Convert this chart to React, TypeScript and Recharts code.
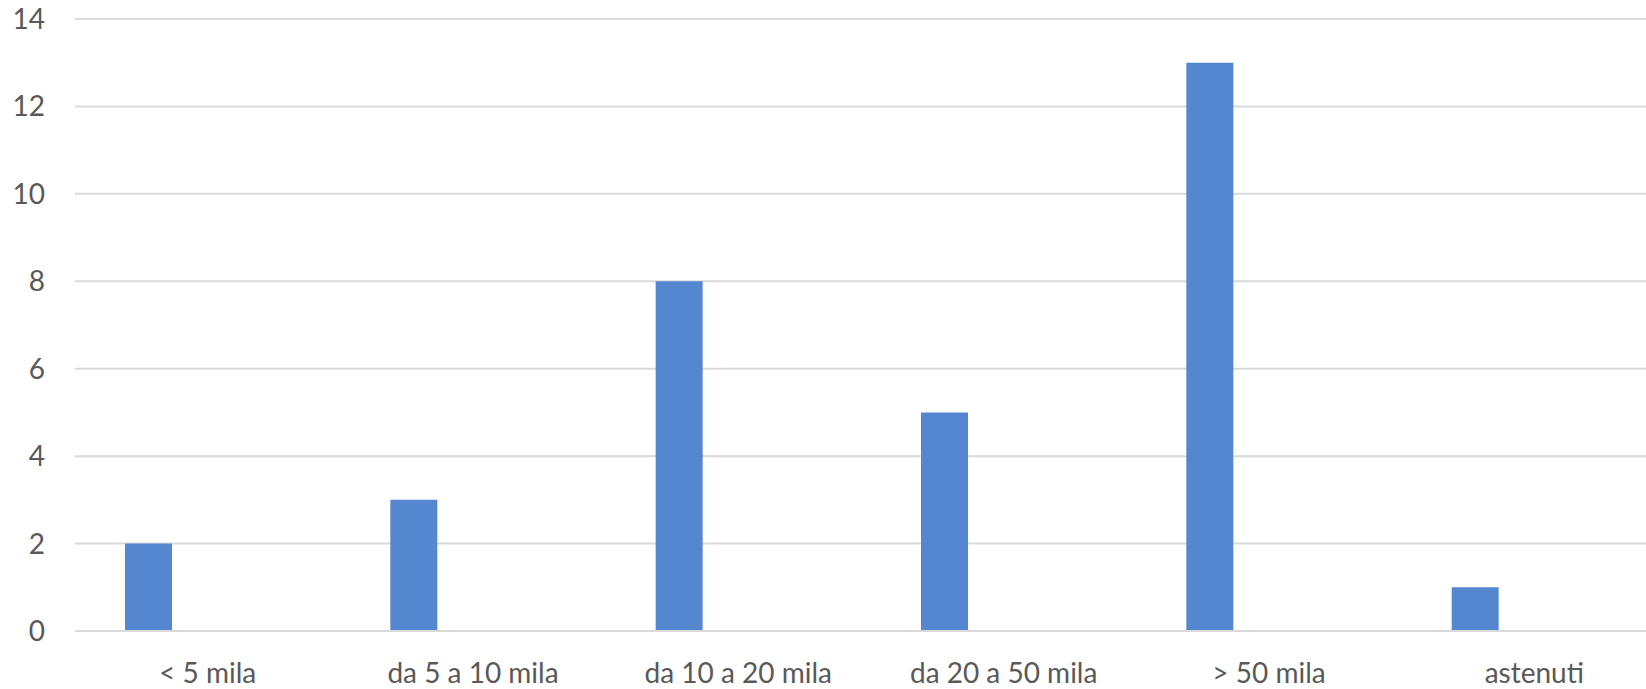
import React from 'react'
import { BarChart, Bar, XAxis, YAxis, CartesianGrid } from 'recharts'

// Categorie e valori
const categories = ['< 5 mila', 'da 5 a 10 mila', 'da 10 a 20 mila', 'da 20 a 50 mila', '> 50 mila', 'astenuti']
const votes = [2, 3, 8, 5, 13, 1]
// seconda serie vuota (sposta le barre a sinistra come nell'originale)
const emptySeries = [null, null, null, null, null, null]
const yTicks = [0, 2, 4, 6, 8, 10, 12, 14]

const data = categories.map((name, i) => ({ name, votes: votes[i], other: emptySeries[i] }))

const axisText = { fill: '#595959', fontSize: 28, fontFamily: 'Lato, "Open Sans", sans-serif' }

export default function App() {
  return (
    <div style={{ position: 'absolute', left: 0, top: 0, width: 1646, height: 689, overflow: 'hidden', background: '#fff' }}>
      <BarChart
        width={1667}
        height={689}
        data={data}
        margin={{ top: 19, right: 0, bottom: 0, left: 0 }}
        barGap={71}
      >
        <CartesianGrid vertical={false} stroke="#d9d9d9" strokeWidth={2} />
        <XAxis
          dataKey="name"
          height={58}
          axisLine={{ stroke: '#d9d9d9', strokeWidth: 2 }}
          tickLine={false}
          tickSize={0}
          tickMargin={32}
          tick={axisText}
          interval={0}
        />
        <YAxis
          width={75}
          domain={[0, 14]}
          ticks={yTicks}
          axisLine={false}
          tickLine={false}
          tickSize={0}
          tickMargin={30}
          tick={axisText}
        />
        <Bar dataKey="votes" fill="#5587d1" barSize={47} isAnimationActive={false} />
        <Bar dataKey="other" fill="#ed7d31" barSize={47} isAnimationActive={false} />
      </BarChart>
    </div>
  )
}
